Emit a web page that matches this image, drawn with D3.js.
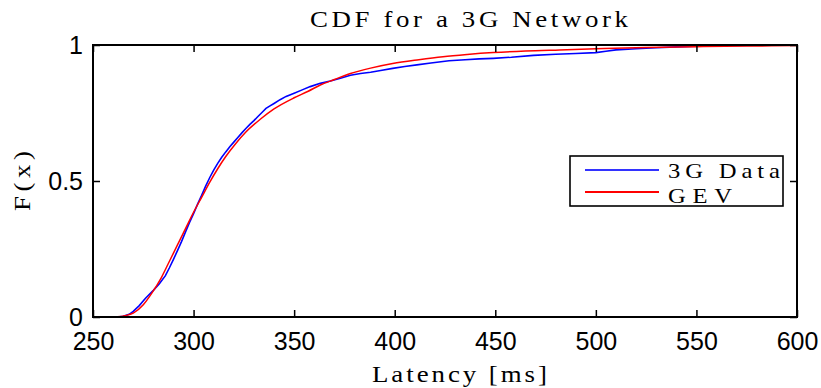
<!DOCTYPE html>
<html>
<head>
<meta charset="utf-8">
<script src="https://cdn.jsdelivr.net/npm/d3@7"></script>
<style>
  html, body { margin: 0; padding: 0; background: #fff; }
  svg { display: block; }
</style>
</head>
<body>
<div id="chart"></div>
<script>
// ---- data ----
const xTicks = [250, 300, 350, 400, 450, 500, 550, 600];
const yTicks = [0, 0.5, 1];
const yTickLabels = ["0", "0.5", "1"];

// empirical CDF of 3G latency (ms, F)
const dataLatency = [250, 262, 265, 268, 270, 273, 276, 280, 283, 286, 288, 290, 292, 294, 296, 298, 300, 302, 304, 306, 308, 310, 312, 314, 316, 318, 320, 322, 324, 326, 328, 330, 332, 334, 336, 338, 340, 343, 346, 350, 354, 358, 363, 368, 373, 378, 383, 388, 393, 399, 405, 411, 418, 427, 435, 442, 449, 458, 469, 480, 490, 500, 505, 510, 520, 530, 540, 550, 565, 580, 600];
const dataCDF = [0, 0, 0.003, 0.01, 0.021, 0.042, 0.068, 0.098, 0.122, 0.152, 0.181, 0.212, 0.244, 0.277, 0.313, 0.348, 0.38, 0.415, 0.447, 0.481, 0.512, 0.54, 0.565, 0.587, 0.607, 0.626, 0.643, 0.66, 0.677, 0.693, 0.708, 0.722, 0.737, 0.752, 0.767, 0.776, 0.785, 0.799, 0.811, 0.823, 0.835, 0.847, 0.859, 0.868, 0.878, 0.889, 0.895, 0.9, 0.906, 0.914, 0.921, 0.927, 0.934, 0.942, 0.946, 0.949, 0.951, 0.955, 0.962, 0.966, 0.969, 0.972, 0.977, 0.982, 0.986, 0.99, 0.993, 0.996, 0.998, 0.999, 1.0];

// fitted GEV CDF (ms, F)
const gevLatency = [250, 258, 262, 266, 270, 275, 279, 284, 288, 292, 296, 300, 304, 308, 312, 316, 321, 326, 333, 340, 350, 357, 363, 370, 378, 388, 399, 412, 424, 436, 449, 465, 482, 500, 525, 550, 575, 600];
const gevCDF = [0, 0, 0.001, 0.005, 0.014, 0.045, 0.085, 0.145, 0.205, 0.265, 0.325, 0.385, 0.44, 0.495, 0.545, 0.59, 0.638, 0.68, 0.726, 0.765, 0.806, 0.83, 0.853, 0.873, 0.895, 0.915, 0.932, 0.946, 0.957, 0.965, 0.972, 0.978, 0.982, 0.986, 0.991, 0.994, 0.996, 0.998];

const seriesNames = ["3G Data", "GEV"];
const titleText = "CDF for a 3G Network";
const xLabelText = "Latency [ms]";
const yLabelText = "F(x)";

// ---- layout ----
const W = 821, H = 388;
const mLeft = 93, mRight = 797, mTop = 45, mBottom = 317;
const serif = "'Liberation Serif', 'Times New Roman', serif";
const sans = "'Liberation Sans', Arial, Helvetica, sans-serif";
const widen = 1.12; // serif glyphs drawn slightly wider, like the original's Computer Modern

const svg = d3.select("#chart").append("svg").attr("width", W).attr("height", H);

const x = d3.scaleLinear().domain([250, 600]).range([mLeft, mRight]);
const y = d3.scaleLinear().domain([0, 1]).range([mBottom, mTop]);

// ---- curves ----
const dataPts = dataLatency.map((v, i) => [v, dataCDF[i]]);
const gevPts = gevLatency.map((v, i) => [v, gevCDF[i]]);

const lineData = d3.line().x(d => x(d[0])).y(d => y(d[1]));
const lineSmooth = d3.line().x(d => x(d[0])).y(d => y(d[1])).curve(d3.curveMonotoneX);

svg.append("path").datum(dataPts).attr("d", lineData)
  .attr("fill", "none").attr("stroke", "#0000ff").attr("stroke-width", 1.6);
svg.append("path").datum(gevPts).attr("d", lineSmooth)
  .attr("fill", "none").attr("stroke", "#ff0000").attr("stroke-width", 1.5);

// ---- axes ----
function styleAxis(g) {
  g.select(".domain").remove();
  g.selectAll(".tick line").attr("stroke", "#000").attr("stroke-width", 1.5);
}
svg.append("g").attr("transform", `translate(0,${mBottom})`)
  .call(d3.axisBottom(x).tickValues(xTicks).tickSize(-7).tickPadding(15).tickFormat(d3.format("d")))
  .call(styleAxis)
  .call(g => g.selectAll("text").attr("font-family", sans).attr("font-size", 25).attr("fill", "#000"));
svg.append("g").attr("transform", `translate(0,${mTop})`)
  .call(d3.axisTop(x).tickValues(xTicks).tickSize(-7).tickFormat(""))
  .call(styleAxis);
svg.append("g").attr("transform", `translate(${mLeft},0)`)
  .call(d3.axisLeft(y).tickValues(yTicks).tickSize(-7).tickPadding(10).tickFormat((d, i) => yTickLabels[i]))
  .call(styleAxis)
  .call(g => g.selectAll("text").attr("font-family", sans).attr("font-size", 25).attr("fill", "#000"));
svg.append("g").attr("transform", `translate(${mRight},0)`)
  .call(d3.axisRight(y).tickValues(yTicks).tickSize(-7).tickFormat(""))
  .call(styleAxis);

// border box
svg.append("rect").attr("x", mLeft).attr("y", mTop).attr("width", mRight - mLeft).attr("height", mBottom - mTop)
  .attr("fill", "none").attr("stroke", "#000").attr("stroke-width", 2);

// ---- titles ----
function serifText(tx, ty, txt, len, size, rot) {
  return svg.append("text")
    .attr("transform", `translate(${tx},${ty})${rot ? " rotate(-90)" : ""} scale(${widen},1)`)
    .attr("font-family", serif).attr("font-size", size)
    .attr("textLength", len / widen).attr("lengthAdjust", "spacing")
    .text(txt);
}
serifText(310, 27, titleText, 318, 24);
serifText(372, 382, xLabelText, 175, 24);
serifText(30, 211, yLabelText, 60, 24, true);

// ---- legend ----
const lg = svg.append("g");
lg.append("rect").attr("x", 570).attr("y", 156).attr("width", 213).attr("height", 50)
  .attr("fill", "#fff").attr("stroke", "#000").attr("stroke-width", 1.6);
const legColors = ["#3333ff", "#ff0000"];
const legY = [170, 192];
const legTextY = [178, 203];
const legTextLen = [112, 64];
seriesNames.forEach((name, i) => {
  lg.append("line").attr("x1", 585).attr("x2", 659).attr("y1", legY[i]).attr("y2", legY[i])
    .attr("stroke", legColors[i]).attr("stroke-width", 1.8);
  lg.append("text").attr("transform", `translate(668,${legTextY[i]}) scale(${widen},1)`)
    .attr("font-family", serif).attr("font-size", 22)
    .attr("textLength", legTextLen[i] / widen).attr("lengthAdjust", "spacing")
    .text(name);
});
</script>
</body>
</html>
